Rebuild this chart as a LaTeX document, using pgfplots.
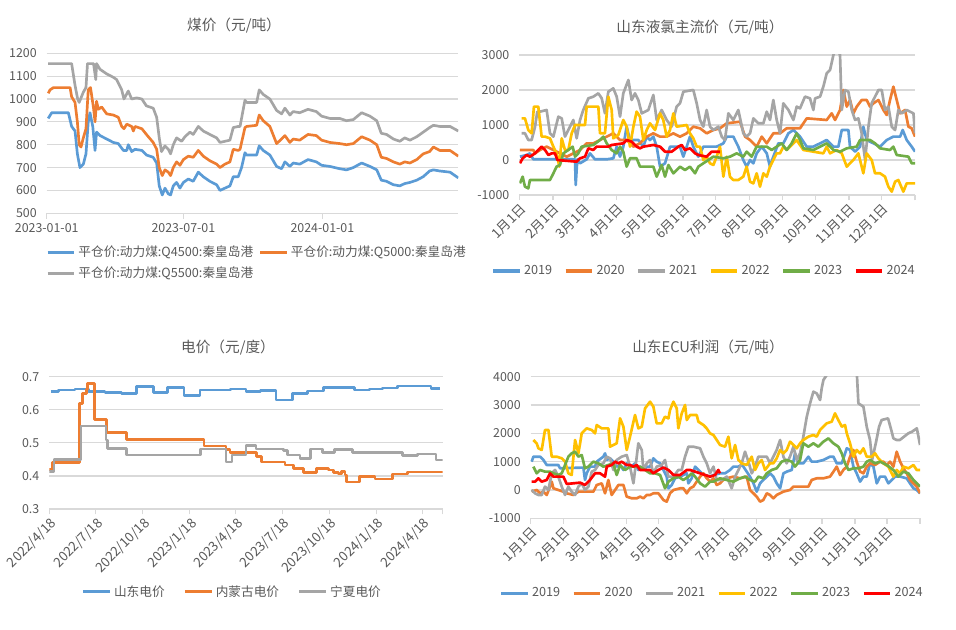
\documentclass[border=0pt]{standalone}
\usepackage{pgfplots}
\pgfplotsset{compat=1.18}
\usepackage{fontspec}
\setmainfont{Noto Sans CJK SC}
\definecolor{cblue}{HTML}{5B9BD5}
\definecolor{corange}{HTML}{ED7D31}
\definecolor{cgray}{HTML}{A5A5A5}
\definecolor{cyellow}{HTML}{FFC000}
\definecolor{cgreen}{HTML}{70AD47}
\definecolor{cred}{HTML}{FF0000}
\definecolor{gridc}{HTML}{D9D9D9}
\definecolor{labc}{HTML}{595959}
\pgfplotsset{
  panel/.style={
    scale only axis,
    enlargelimits=false,
    axis x line*=bottom, axis y line*=left,
    x axis line style={-, draw=gridc, line width=0.9pt},
    y axis line style={draw=none},
    ymajorgrids, grid style={gridc, line width=0.9pt},
    ytick style={draw=none},
    xtick style={draw=gridc, line width=0.9pt},
    tick align=outside, major tick length=4pt,
    tick label style={font=\fontsize{9.3}{11}\selectfont, text=labc},
    /pgf/number format/assume math mode=true,
    /pgf/number format/1000 sep={},
    scaled ticks=false,
    legend style={draw=none, fill=none, font=\fontsize{9.5}{11}\selectfont, text=labc,
      /tikz/every even column/.append style={column sep=7pt}},
    legend image code/.code={\draw[##1, line width=2.3pt] (0pt,0pt) -- (20pt,0pt);},
    every axis plot/.append style={line width=2pt, no markers, line join=round},
  },
  months/.style={
    xmin=0, xmax=365,
    xtick={0,31,59,90,120,151,181,212,243,273,304,334,365},
    xticklabels={1月1日,2月1日,3月1日,4月1日,5月1日,6月1日,7月1日,8月1日,9月1日,10月1日,11月1日,12月1日,{}},
    xticklabel style={rotate=45, anchor=north east, inner sep=1pt, font=\fontsize{10}{11}\selectfont},
  },
}
\begin{document}
\begin{tikzpicture}
\useasboundingbox (0pt,0pt) rectangle (717pt,471.75pt);

% ---------------- Panel 1: coal ----------------
\begin{axis}[panel, at={(35.03pt,311.78pt)}, anchor=south west,
  width=308.7pt, height=120pt,
  xmin=0, xmax=545, ymin=500, ymax=1200, ytick={500,600,...,1200},
  xtick={0,181,365}, xticklabels={2023-01-01,2023-07-01,2024-01-01},
  legend columns=2,
  legend style={at={(-0.012,-0.17)}, anchor=north west, row sep=2pt,
    /tikz/every even column/.append style={column sep=2pt}}]
\addplot[cblue] coordinates {(2,915)(6.6,940)(28.7,940)(33,880)(37.5,860)(40.6,760)(44,700)(48.5,715)(52,760)(55,900)(57.3,940)(61,880)(64,775)(66,855)(70.6,840)(79.4,825)(88.2,810)(94.8,805)(101.5,775)(106,775)(108,800)(112.5,770)(117,780)(126,775)(132,755)(141,745)(145.6,720)(149,620)(153,580)(156.6,610)(161,585)(164,580)(167.6,620)(172,635)(176.4,610)(181,635)(187.5,650)(194,640)(200.7,680)(207.3,660)(216,640)(225,625)(229.4,600)(236,610)(242.6,620)(247,660)(253.6,660)(258,700)(262.5,765)(264.7,755)(278,755)(281.4,795)(286.7,775)(295.5,755)(304.4,705)(311,695)(315.4,725)(322,705)(326.4,720)(335,715)(346,735)(357,725)(364,710)(375,705)(388,695)(397,690)(406,700)(417,720)(428,705)(437,690)(443,645)(450,640)(459,625)(467.6,620)(474,630)(481,635)(490,645)(498.5,660)(507,685)(512,690)(520.5,685)(534,680)(545,655)};
\addlegendentry{平仓价:动力煤:Q4500:秦皇岛港}
\addplot[corange] coordinates {(2,1025)(4.4,1040)(9,1050)(31,1050)(33,1010)(37.5,985)(40.6,900)(43,800)(45.4,790)(48.5,830)(52,870)(55,1040)(58,1050)(62,960)(64,900)(66,990)(68.4,955)(72.8,965)(79.4,935)(88.2,930)(94.8,920)(99.3,880)(102.3,870)(106,890)(112.5,880)(114.7,860)(117,880)(126,870)(132,845)(141,810)(145.6,780)(149,700)(153,665)(156.6,690)(161,680)(164,665)(167.6,700)(172,725)(176.4,710)(181,735)(187.5,750)(194,745)(200.7,775)(207.3,750)(216,730)(225,715)(229.4,700)(236,715)(242.6,725)(247,780)(253.6,775)(256,780)(262.5,875)(264.7,880)(278,885)(281.4,930)(286.7,905)(295.5,880)(304.4,805)(311,825)(315.4,840)(322,810)(326.4,825)(335,820)(346,845)(357,840)(364,820)(375,810)(388,805)(397,800)(406,805)(417,835)(428,820)(437,800)(443,745)(450,740)(459,725)(467.6,715)(474,725)(481,720)(490,735)(498.5,760)(507,770)(512,790)(520.5,775)(534,775)(545,750)};
\addlegendentry{平仓价:动力煤:Q5000:秦皇岛港}
\addplot[cgray] coordinates {(2,1155)(33,1155)(37.5,1060)(41,1000)(43,985)(48.5,1030)(52,1050)(54,1155)(62,1155)(65,1085)(66,1155)(70.6,1130)(79.4,1110)(88.2,1095)(92.6,1085)(99.3,1040)(102.3,1000)(108,1035)(112.5,1000)(119,1005)(126,1000)(132,970)(141,960)(145.6,920)(149,830)(152,770)(156.6,795)(161,780)(164,760)(167.6,800)(172,830)(178.7,815)(183,835)(189.7,855)(194,845)(200.7,880)(207.3,860)(216,845)(225,830)(229.4,810)(236,815)(242.6,820)(247,875)(253.6,880)(256,880)(262.5,995)(264.7,985)(278,985)(281.4,1040)(286.7,1020)(295.5,1000)(304.4,950)(311,935)(315.4,960)(322,930)(326.4,945)(335,940)(346,955)(357,945)(364,925)(375,915)(388,915)(397,905)(406,910)(417,940)(428,925)(437,905)(443,850)(450,845)(459,825)(467.6,815)(474,830)(481,820)(490,835)(498.5,855)(507,875)(512,885)(520.5,880)(534,880)(545,860)};
\addlegendentry{平仓价:动力煤:Q5500:秦皇岛港}
\end{axis}

% ---------------- Panel 2: liquid chlorine ----------------
\begin{axis}[panel, months, at={(389.48pt,325.5pt)}, anchor=south west,
  width=296.8pt, height=105pt,
  ymin=-1000, ymax=3000, ytick={-1000,0,1000,2000,3000},
  legend columns=6,
  legend style={at={(0.468,-0.543)}, anchor=center}]
\addplot[cblue] coordinates {(0.6,95)(6.8,143)(9.8,190)(12.9,19)(25.2,19)(37.5,19)(46.7,19)(51.4,19)(52,-714)(53.5,19)(56,-95)(62.1,19)(65.2,190)(69.8,19)(80.6,19)(86.7,48)(89.8,381)(92.9,95)(95.9,381)(99,952)(102.1,571)(109.8,571)(114.4,381)(117.5,667)(120.5,571)(123.6,667)(126.7,381)(129.8,-190)(134.4,-95)(139,381)(148.2,381)(151.3,95)(154.4,381)(157.4,667)(160.5,381)(165.1,95)(169.7,381)(182,381)(188.2,476)(191.3,667)(197.4,667)(202,381)(206.6,0)(209.7,-190)(212.8,0)(215.9,-95)(218.9,190)(223.6,381)(228.2,190)(231.2,-190)(234.3,95)(238.9,476)(243.5,476)(248.2,762)(252.8,857)(258.9,667)(265.1,381)(271.2,381)(277.4,476)(283.5,571)(289.7,381)(294.3,381)(297.4,857)(303.5,857)(305,381)(309.7,238)(314.3,381)(317.3,952)(320.4,571)(326.6,476)(332.7,381)(338.9,571)(345,667)(351.2,667)(353.6,857)(357.3,571)(361.9,381)(365,238)};
\addlegendentry{2019}
\addplot[corange] coordinates {(0.6,286)(12.9,286)(14.5,190)(19.1,286)(25.2,381)(31.4,286)(37.5,190)(43.7,95)(56,286)(62.1,476)(68.3,476)(74.4,571)(80.6,667)(86.7,762)(92.9,571)(99,571)(105.2,381)(111.3,476)(117.5,667)(123.6,762)(129.8,667)(135.9,667)(142.1,762)(148.2,667)(154.4,762)(160.5,952)(166.7,905)(172.8,762)(179,857)(185.1,905)(191.3,1048)(203.6,1095)(208.2,667)(212.8,571)(218.9,381)(223.6,667)(228.2,476)(234.3,762)(240.5,762)(246.6,905)(258.9,905)(265.1,1190)(283.5,1143)(288.1,1333)(291.2,1143)(295.8,1429)(298.9,2000)(302,1524)(305,1714)(308.1,1333)(311.2,1524)(315.8,1714)(320.4,1714)(323.5,1524)(326.6,1619)(331.2,1714)(335.8,1429)(338.9,1286)(341.9,1714)(345,2095)(348.1,1714)(351.2,1333)(355.8,1429)(358.9,952)(361.9,905)(365,667)};
\addlegendentry{2020}
\addplot[cgray] coordinates {(2.2,762)(5.2,762)(8.3,571)(11.4,571)(14.5,952)(16.6,1381)(19.1,1381)(25.2,1429)(28.3,762)(31.4,667)(36,1238)(39.1,1190)(42.1,667)(45.2,857)(49.8,1143)(52.9,619)(56,1143)(59,1429)(63.7,1762)(68.3,1810)(72.9,1905)(76,1762)(79,1333)(82.1,1952)(86.7,2048)(89.8,1810)(92.9,1238)(95.9,1905)(100.6,2286)(103.6,1714)(106.7,1905)(109.8,1714)(112.9,1333)(119,1429)(123.6,1857)(126.7,1143)(131.3,1429)(135.9,1143)(140.5,952)(145.1,1524)(148.2,1619)(151.3,1952)(160.5,2000)(163.6,1619)(166.7,1143)(169.7,952)(172.8,1429)(175.9,952)(179,857)(183.6,952)(186.7,667)(189.7,571)(192.8,1333)(197.4,1143)(202,1429)(206.6,762)(209.7,667)(212.8,762)(215.9,1190)(220.5,1048)(225.1,1048)(228.2,1381)(231.2,1143)(234.3,1714)(237.4,1143)(240.5,762)(243.5,1619)(248.2,1429)(252.8,1143)(255.8,1524)(258.9,1476)(263.5,1810)(268.1,1762)(271.2,1429)(272.8,1762)(277.4,1810)(280.4,2095)(283.5,2476)(286.6,2571)(289.7,3000)(292.7,3238)(295.8,3000)(297.4,1429)(300.4,2000)(303.5,1952)(306.6,1429)(309.7,1143)(312.7,1190)(315.8,762)(318.9,0)(322,952)(325,1619)(328.1,1810)(331.2,2000)(334.3,2000)(337.3,1429)(340.4,1524)(343.5,952)(346.6,857)(349.6,1429)(352.7,1333)(357.3,1429)(363.5,1333)(365,762)};
\addlegendentry{2021}
\addplot[cyellow] coordinates {(2.2,1190)(5.2,1190)(8.3,857)(11.4,762)(13.5,1524)(17.5,1524)(20.6,667)(23.7,667)(28.3,619)(31.4,381)(34.4,190)(36.9,-190)(39.1,619)(42.1,286)(45.2,286)(48.3,762)(51.4,1000)(60.6,1000)(62.1,1524)(72.9,1524)(74.4,762)(79,762)(82.1,1810)(85.2,1429)(86.7,619)(91.3,714)(95.9,1143)(99,952)(102.1,381)(105.2,952)(108.2,1381)(111.3,1238)(114.4,571)(117.5,857)(120.5,1048)(125.2,857)(129.8,1333)(132.8,1143)(135.9,667)(139,857)(142.1,1333)(145.1,952)(154.4,1000)(157.4,762)(160.5,619)(163.6,381)(166.7,381)(169.7,0)(172.8,95)(175.9,-95)(179,-143)(182,95)(185.1,381)(188.2,-476)(191.3,95)(194.3,-476)(197.4,-571)(202,-571)(206.6,-476)(209.7,-190)(212.8,-619)(215.9,-667)(218.9,-381)(222,-762)(225.1,-381)(228.2,-476)(231.2,-190)(234.3,0)(237.4,190)(240.5,190)(243.5,381)(246.6,286)(249.7,381)(255.8,571)(262,286)(280.4,190)(283.5,381)(286.6,190)(292.7,286)(297.4,190)(302,-190)(305,-95)(308.1,0)(312.7,190)(317.3,-381)(320.4,190)(325,0)(328.1,-381)(332.7,-381)(337.3,-476)(340.4,-762)(343.5,-905)(346.6,-619)(349.6,-571)(354.2,-905)(357.3,-667)(365,-667)};
\addlegendentry{2022}
\addplot[cgreen] coordinates {(0.6,-667)(3.1,-476)(5.2,-762)(8.3,-810)(9.8,-571)(28.3,-571)(31.4,-381)(34.4,-190)(37.5,-143)(40.6,190)(45.2,286)(49.2,381)(51.4,95)(54.4,190)(57.5,381)(68.3,429)(74.4,571)(77.5,667)(80.6,476)(85.2,286)(89.8,190)(92.9,381)(95.9,238)(99,-190)(102.1,48)(108.2,48)(111.3,-190)(123.6,-190)(126.7,-476)(131.3,-143)(134.4,-476)(137.5,-143)(142.1,-381)(148.2,-190)(152.8,-286)(157.4,-190)(162.1,-381)(165.1,-190)(169.7,-95)(174.4,0)(179,95)(188.2,48)(194.3,95)(200.5,190)(206.6,95)(209.7,238)(214.3,95)(218.9,381)(228.2,381)(232.8,286)(237.4,381)(242,476)(246.6,286)(251.2,476)(255.8,762)(258.9,571)(262,333)(271.2,286)(277.4,381)(283.5,476)(289.7,286)(295.8,238)(302,333)(311.2,381)(314.3,571)(323.5,571)(328.1,476)(332.7,333)(341.9,286)(345,381)(348.1,143)(358.9,95)(361.9,-95)(365,-95)};
\addlegendentry{2023}
\addplot[cred] coordinates {(0.6,-95)(3.1,48)(6.8,143)(9.8,95)(14.5,190)(17.5,286)(20.6,381)(23.7,286)(26.8,143)(29.8,190)(32.9,190)(35.1,0)(52.9,-48)(56,48)(60.6,95)(63.7,333)(68.3,286)(71.3,381)(82.1,381)(85.2,429)(95.9,476)(99,571)(103.6,524)(108.2,381)(111.3,333)(114.4,381)(123.6,429)(129.8,381)(134.4,238)(140.5,238)(146.7,381)(149.8,429)(152.8,286)(157.4,333)(162.1,190)(165.1,143)(172.8,95)(175.9,190)(177.4,238)(185.1,238)};
\addlegendentry{2024}
\end{axis}

% ---------------- Panel 3: electricity ----------------
\begin{axis}[panel, at={(36.98pt,90pt)}, anchor=south west,
  width=295pt, height=99.2pt,
  xmin=0, xmax=770, ymin=0.3, ymax=0.7, ytick={0.3,0.4,...,0.71},
  yticklabel style={/pgf/number format/.cd, fixed, precision=1, fixed zerofill},
  xtick={0,91,183,275,365,456,548,640,731,770},
  xticklabels={2022/4/18,2022/7/18,2022/10/18,2023/1/18,2023/4/18,2023/7/18,2023/10/18,2024/1/18,2024/4/18,{}},
  xticklabel style={rotate=45, anchor=north east, inner sep=1pt, font=\fontsize{10}{11}\selectfont},
  legend columns=3,
  legend style={at={(0.466,-0.627)}, anchor=center,
    /tikz/every even column/.append style={column sep=12pt}}]
\addplot[cblue, const plot] coordinates {(3,0.655)(17.6,0.66)(50.3,0.663)(76.4,0.655)(109,0.652)(141.6,0.649)(171,0.67)(203.7,0.652)(231.1,0.667)(263.7,0.643)(295,0.66)(355.1,0.663)(385.1,0.655)(413.8,0.658)(443.9,0.63)(476.5,0.649)(505.2,0.657)(536.6,0.668)(597.3,0.66)(626.6,0.663)(652.7,0.666)(682.1,0.672)(747.4,0.665)(765,0.665)};
\addlegendentry{山东电价}
\addplot[corange, const plot] coordinates {(0,0.42)(6.5,0.44)(58.7,0.619)(65.3,0.65)(73.1,0.662)(74.4,0.68)(88.8,0.571)(112.3,0.532)(151.4,0.511)(302.9,0.491)(346,0.48)(353.8,0.47)(406,0.458)(415.8,0.442)(461.5,0.433)(477.8,0.422)(497.4,0.411)(523.5,0.422)(546.3,0.418)(556.1,0.411)(566,0.406)(572.5,0.413)(579,0.403)(582.2,0.382)(607,0.398)(637.7,0.391)(672.3,0.406)(701,0.412)(770,0.412)};
\addlegendentry{内蒙古电价}
\addplot[cgray, const plot] coordinates {(0,0.413)(9.1,0.45)(62,0.551)(111,0.509)(113.6,0.482)(151.4,0.463)(296.3,0.481)(346,0.442)(357.7,0.463)(385.1,0.492)(404.7,0.481)(458.2,0.476)(466,0.463)(490.9,0.452)(511.7,0.481)(535.2,0.47)(558.1,0.48)(594,0.471)(691.9,0.462)(721.3,0.466)(757.2,0.448)(770,0.448)};
\addlegendentry{宁夏电价}
\end{axis}

% ---------------- Panel 4: ECU profit ----------------
\begin{axis}[panel, months, at={(398.03pt,83.03pt)}, anchor=south west,
  width=292pt, height=106.2pt,
  ymin=-1000, ymax=4000, ytick={-1000,0,1000,2000,3000,4000},
  legend columns=6,
  legend style={at={(0.467,-0.528)}, anchor=center}]
\addplot[cblue] coordinates {(0.9,1000)(2.5,1176)(8.8,1176)(11.9,1059)(15,882)(25.9,882)(27.5,765)(46.3,788)(49.4,788)(50.9,353)(52.5,588)(55.6,824)(60.3,824)(61.9,1000)(68.1,1176)(69.7,1294)(71.3,1059)(74.4,1118)(77.5,1000)(80.6,824)(83.8,882)(86.9,706)(90,941)(94.7,824)(97.8,941)(100.9,706)(102.5,824)(105.6,706)(108.8,824)(111.9,824)(115,1118)(118.1,1000)(121.3,941)(124.4,706)(127.5,471)(129.1,59)(132.2,176)(135.3,412)(140,471)(146.3,588)(147.8,235)(150.9,412)(154.1,824)(157.2,706)(160.3,588)(163.4,529)(168.1,471)(171.3,529)(177.5,588)(182.2,588)(186.9,706)(190,824)(194.7,824)(197.8,882)(199.4,824)(205.6,471)(208.8,235)(211.9,-59)(215,235)(218.1,353)(221.3,471)(224.4,588)(227.5,471)(230.6,235)(233.8,59)(236.9,588)(240,647)(244.7,706)(247.8,1294)(250.9,941)(255.6,941)(260.3,1176)(263.4,1000)(268.1,1000)(274.4,1059)(280.6,1176)(283.8,1176)(286.9,941)(291.6,941)(296.3,1471)(299.4,1412)(302.5,824)(305.6,588)(308.8,294)(311.9,471)(315,471)(318.1,941)(321.3,824)(324.4,235)(327.5,471)(332.2,471)(335.3,235)(338.4,353)(341.6,471)(346.3,471)(352.5,412)(355.6,235)(358.8,59)(361.9,0)(365,-118)};
\addlegendentry{2019}
\addplot[corange] coordinates {(0.9,-59)(5.6,0)(8.8,-118)(11.9,-59)(15,-176)(18.1,118)(19.7,294)(21.3,59)(25.9,0)(30.6,-59)(33.8,-118)(40,-176)(44.7,-59)(49.4,-59)(58.8,-59)(61.9,176)(66.6,235)(69.7,-118)(72.8,353)(75.9,-176)(79.1,0)(82.2,176)(86.9,176)(90,-235)(94.7,-294)(99.4,-294)(102.5,-235)(105.6,-294)(108.8,-176)(111.9,-176)(115,-118)(119.7,-118)(124.4,-353)(127.5,-412)(130.6,-118)(133.8,0)(140,59)(143.1,59)(146.3,-118)(149.4,59)(152.5,118)(155.6,294)(158.8,471)(161.9,588)(165,412)(168.1,294)(171.3,412)(174.4,176)(177.5,235)(180.6,353)(183.8,412)(190,471)(196.3,412)(202.5,471)(205.6,0)(208.8,-118)(211.9,-235)(215,-412)(218.1,-353)(221.3,-118)(224.4,-176)(227.5,-294)(230.6,-176)(233.8,-118)(236.9,-59)(243.1,0)(246.3,118)(252.5,118)(260.3,118)(263.4,353)(268.1,412)(274.4,412)(280.6,471)(283.8,647)(286.9,824)(290,529)(293.1,706)(296.3,824)(299.4,1176)(302.5,1412)(305.6,1000)(308.8,647)(311.9,588)(315,824)(318.1,941)(322.8,882)(327.5,1000)(330.6,1000)(333.8,882)(336.9,1000)(340,824)(343.1,1353)(346.3,1000)(349.4,765)(352.5,588)(355.6,353)(358.8,235)(361.9,118)(365,-118)};
\addlegendentry{2020}
\addplot[cgray] coordinates {(0.9,0)(4.1,-118)(7.2,-176)(10.3,-176)(13.4,118)(16.6,0)(19.7,588)(22.8,706)(25.9,471)(29.1,118)(32.2,-176)(35.3,118)(38.4,-59)(41.6,-176)(44.7,118)(47.8,235)(50.9,0)(54.1,118)(57.2,647)(60.3,706)(63.4,882)(68.1,941)(71.3,1176)(74.4,1118)(77.5,706)(80.6,1059)(85.3,1176)(90,1235)(93.1,824)(96.3,235)(99.4,1176)(100.9,1647)(104.1,1412)(105.6,706)(108.8,941)(111.9,1059)(115,588)(118.1,824)(122.8,882)(125.9,1059)(129.1,471)(133.8,471)(138.4,706)(141.6,706)(144.7,1176)(147.8,1529)(152.5,1529)(158.8,1471)(161.9,1176)(165,941)(168.1,588)(171.3,824)(174.4,353)(179.1,353)(183.8,471)(188.4,59)(191.6,471)(194.7,706)(197.8,941)(200.9,1353)(204.1,1000)(207.2,588)(210.3,824)(213.4,1176)(221.3,1176)(224.4,941)(227.5,1176)(230.6,1412)(233.8,1765)(236.9,1176)(240,941)(243.1,1176)(246.3,1529)(249.4,1059)(252.5,1294)(255.6,1882)(258.8,2588)(261.9,3059)(265,3471)(268.1,3412)(271.3,3176)(272.8,3588)(274.4,3882)(277.5,4059)(280.6,4235)(283.8,4294)(296.3,4294)(302.5,4353)(305.6,4235)(307.2,3059)(311.9,2941)(315,2235)(318.1,1765)(320,1059)(323.5,1647)(326.6,2235)(329,2471)(335,2529)(338,2118)(340,1824)(343,1765)(346,1765)(350,1882)(354,2000)(357.5,2059)(362,2176)(365,1588)};
\addlegendentry{2021}
\addplot[cyellow] coordinates {(2.5,1765)(5.6,1647)(7.2,1471)(10.3,1412)(13.4,2118)(16.6,2118)(19.7,1176)(24.4,1176)(29.1,1118)(32.2,1000)(35.3,588)(38.4,529)(41.6,1765)(44.7,1294)(46.3,1647)(47.8,2000)(52.5,2176)(57.2,2118)(60.3,2000)(61.9,2294)(66.6,2176)(72.8,2176)(74.4,1529)(77.5,1588)(80.6,1647)(83.8,2529)(86.9,2235)(90,1412)(93.1,1882)(97.8,2647)(100.9,2176)(104.1,2235)(107.2,2882)(111.9,3118)(115,2941)(118.1,2353)(122.8,2353)(125.9,2588)(129.1,2529)(130.6,2824)(133.8,3118)(136.9,2882)(138.4,2176)(141.6,2706)(144.7,3000)(146.3,2471)(149.4,2647)(155.6,2647)(157.2,2412)(161.9,2294)(165,2176)(168.1,2000)(171.3,1941)(174.4,1765)(177.5,1588)(182.2,1529)(185.3,1882)(188.4,1118)(191.6,1588)(194.7,1059)(197.8,941)(202.5,882)(207.2,1176)(210.3,706)(213.4,941)(216.6,1059)(219.7,706)(224.4,941)(227.5,941)(230.6,1118)(233.8,1412)(236.9,1294)(240,1412)(243.1,1706)(246.3,1588)(249.4,1471)(252.5,1647)(255.6,1765)(260.3,1882)(265,1941)(268.1,1882)(271.3,2118)(277.5,2353)(282.2,2412)(285.3,2706)(288.4,2471)(291.6,2235)(294.7,2294)(296.3,2000)(299.4,1647)(302.5,1176)(305.6,1412)(308.8,1294)(311.9,1471)(315,1176)(319.7,1176)(322.8,1294)(325.9,1118)(330.6,941)(335.3,824)(340,471)(343.1,706)(346.3,588)(349.4,824)(354.1,765)(358.8,882)(361.9,706)(365,706)};
\addlegendentry{2022}
\addplot[cgreen] coordinates {(2.5,824)(5.6,588)(8.8,706)(13.4,647)(18.1,647)(21.3,588)(25.9,529)(29.1,588)(32.2,882)(35.3,1176)(38.4,1294)(41.6,1353)(44.7,1176)(47.8,1235)(50.9,765)(54.1,824)(58.8,1000)(63.4,941)(68.1,824)(72.8,882)(77.5,941)(80.6,529)(83.8,882)(88.4,706)(93.1,824)(97.8,824)(102.5,824)(107.2,706)(111.9,588)(116.6,588)(121.3,529)(125.9,59)(129.1,294)(133.8,412)(138.4,471)(143.1,353)(147.8,471)(150.9,588)(154.1,471)(158.8,235)(163.4,118)(168.1,294)(171.3,294)(177.5,412)(183.8,353)(190,294)(196.3,412)(200.9,471)(205.6,353)(210.3,294)(213.4,471)(218.1,412)(221.3,588)(225.9,706)(230.6,765)(235.3,1000)(240,1059)(244.7,1000)(247.8,824)(252.5,1059)(255.6,1647)(260.3,1529)(265,1647)(269.7,1529)(274.4,1706)(279.1,1824)(283.8,1647)(288.4,1529)(291.6,1294)(294.7,941)(297.8,706)(302.5,765)(307.2,765)(311.9,824)(315,1000)(318.1,1059)(322.8,941)(327.5,1000)(333.8,882)(340,706)(344.7,471)(349.4,647)(354.1,588)(358.8,353)(365,118)};
\addlegendentry{2023}
\addplot[cred] coordinates {(0.9,294)(4.1,294)(7.2,412)(10.3,294)(15,353)(18.1,588)(21.3,471)(25.9,471)(30.6,471)(33.8,212)(40,235)(46.3,259)(50.9,176)(55.6,353)(60.3,588)(65,588)(69.7,471)(71.3,824)(75.9,882)(79.1,1000)(82.2,941)(85.3,1000)(90,882)(93.1,882)(96.3,824)(99.4,882)(102.5,706)(107.2,706)(111.9,706)(115,588)(119.7,706)(124.4,794)(129.1,706)(133.8,529)(140,529)(146.3,706)(149.4,706)(154.1,647)(158.8,588)(163.4,529)(168.1,471)(172.8,529)(175.9,706)(177.5,588)};
\addlegendentry{2024}
\end{axis}

% ---------------- Titles ----------------
\begin{scope}[every node/.style={font=\fontsize{11}{13}\selectfont, text=labc}]
\node at (175.5pt,452.25pt) {煤价（元/吨）};
\node at (525pt,450.75pt) {山东液氯主流价（元/吨）};
\node at (171pt,210.75pt) {电价（元/度）};
\node at (531pt,210.75pt) {山东ECU利润（元/吨）};
\end{scope}
\end{tikzpicture}
\end{document}
